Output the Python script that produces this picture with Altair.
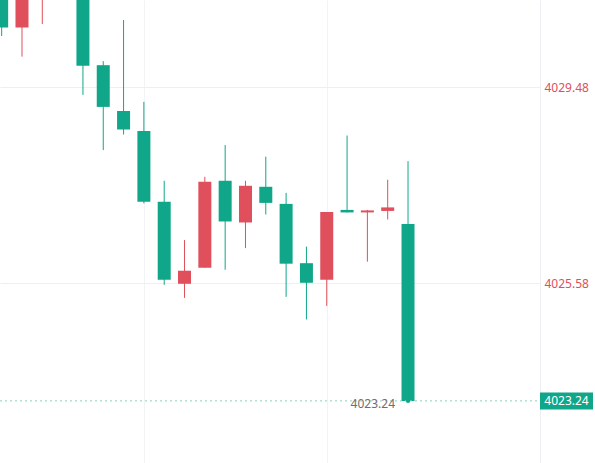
import altair as alt
import pandas as pd

# candle index (left to right), OHLC
idx = list(range(21))
opens = [4031.50, 4030.67, 4031.30, 4032.20, 4031.50, 4029.92, 4029.01, 4028.61, 4027.20, 4025.57,
         4025.89, 4027.62, 4026.79, 4027.50, 4027.16, 4025.98, 4025.65, 4027.04, 4026.99, 4027.02, 4026.76]
closes = [4030.67, 4031.40, 4031.50, 4031.60, 4029.91, 4029.09, 4028.64, 4027.20, 4025.65, 4025.83,
          4027.60, 4026.81, 4027.52, 4027.18, 4025.97, 4025.59, 4027.00, 4026.99, 4027.03, 4027.09, 4023.24]
highs = [4031.80, 4031.60, 4031.70, 4032.40, 4031.80, 4030.00, 4030.82, 4029.19, 4027.62, 4026.44,
         4027.70, 4028.33, 4027.62, 4028.10, 4027.38, 4026.31, 4027.00, 4028.52, 4027.04, 4027.64, 4028.01]
lows = [4030.50, 4030.09, 4030.74, 4031.30, 4029.33, 4028.23, 4028.54, 4027.17, 4025.55, 4025.29,
        4025.89, 4025.85, 4026.28, 4026.95, 4025.31, 4024.86, 4025.13, 4026.99, 4026.01, 4026.85, 4023.24]

axis_ticks = [4025.58, 4029.48]
grid_candles = [7, 16]
last_price = [4023.24]

GREEN = "#10a689"
RED = "#e04f5c"

df = pd.DataFrame({"i": idx, "open": opens, "close": closes, "high": highs, "low": lows})
df["dir"] = ["up" if c > o else "down" for o, c in zip(opens, closes)]
last = pd.DataFrame({"i": [idx[-1]], "p": last_price, "lbl": ["%.2f" % v for v in last_price]})

x_scale = alt.Scale(domain=[0.164, 26.25], nice=False, zero=False)
y_scale = alt.Scale(domain=[4022.004, 4031.217], nice=False, zero=False)
c_scale = alt.Scale(domain=["up", "down"], range=[RED, GREEN])

x_axis = alt.Axis(values=grid_candles, grid=True, gridColor="#f2f3f5", labels=False,
                  ticks=False, domain=False, title=None)
y_axis = alt.Axis(orient="right", values=axis_ticks, grid=True, gridColor="#efefef",
                  labelColor=RED, labelFont="Noto Sans", labelFontSize=12, ticks=False,
                  domain=True, domainColor="#eceef2", labelPadding=4, title=None, format=".2f")

base = alt.Chart(df)

wicks = base.mark_rule(strokeWidth=1, clip=True).encode(
    x=alt.X("i:Q", scale=x_scale, axis=x_axis),
    y=alt.Y("low:Q", scale=y_scale, axis=y_axis),
    y2="high:Q",
    color=alt.Color("dir:N", scale=c_scale, legend=None),
)

bodies = base.mark_bar(width=13, clip=True).encode(
    x=alt.X("i:Q", scale=x_scale),
    y=alt.Y("open:Q", scale=y_scale),
    y2="close:Q",
    color=alt.Color("dir:N", scale=c_scale, legend=None),
)

lb = alt.Chart(last)

dash = lb.mark_rule(strokeDash=[2, 3], strokeWidth=1, color="#8ccfbf").encode(
    x=alt.value(0), x2=alt.value(540), y=alt.Y("p:Q", scale=y_scale)
)

dot = lb.mark_point(filled=True, size=18, color=GREEN, opacity=1).encode(
    x=alt.X("i:Q", scale=x_scale), y=alt.Y("p:Q", scale=y_scale)
)

low_lbl = lb.mark_text(align="right", baseline="middle", dx=-13, dy=3, fontSize=12,
                       font="Noto Sans", color="#6e6e6e").encode(
    x=alt.X("i:Q", scale=x_scale), y=alt.Y("p:Q", scale=y_scale), text="lbl:N"
)

box = lb.mark_rule(strokeWidth=17, color=GREEN, strokeCap="butt", clip=False).encode(
    x=alt.value(540), x2=alt.value(593), y=alt.Y("p:Q", scale=y_scale)
)

box_txt = lb.mark_text(align="center", baseline="middle", fontSize=12, font="Noto Sans",
                       color="white", clip=False).encode(
    x=alt.value(566.5), y=alt.Y("p:Q", scale=y_scale), text="lbl:N"
)

chart = alt.layer(wicks, bodies, dash, dot, low_lbl, box, box_txt).properties(
    width=540, height=463,
    padding={"left": 0, "top": 0, "right": 55, "bottom": 0},
    autosize=alt.AutoSizeParams(type="none"),
    background="white",
).configure_view(stroke=None)

chart.save("out.html", embed_options={"renderer": "svg", "actions": False})
